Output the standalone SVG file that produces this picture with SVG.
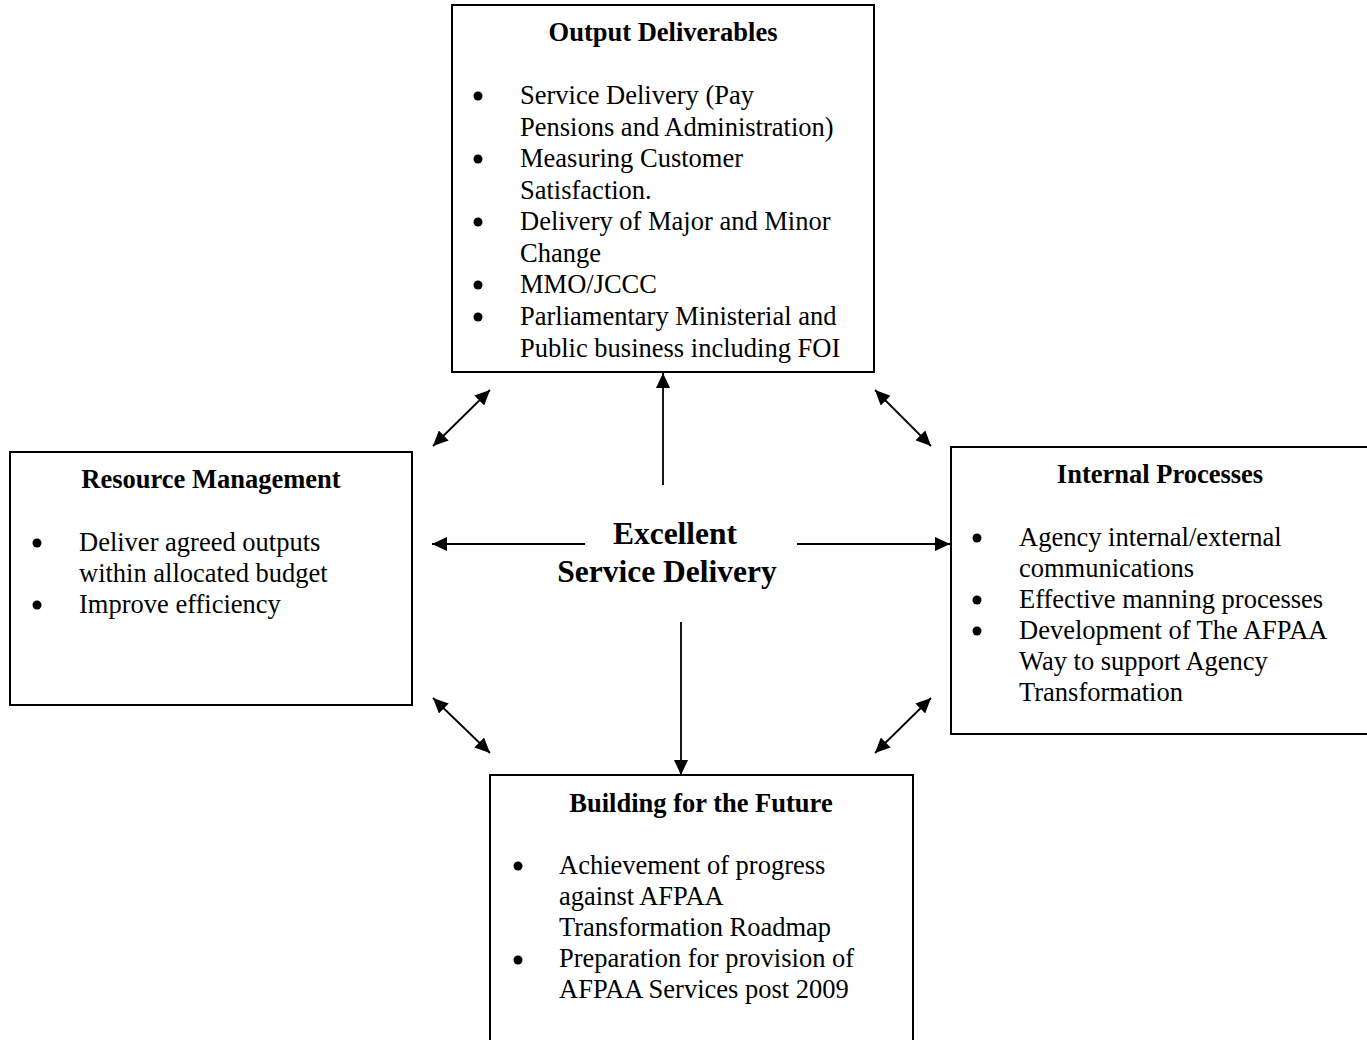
<svg xmlns="http://www.w3.org/2000/svg" width="1367" height="1040" viewBox="0 0 1367 1040">
<style>
.box{fill:#fff;stroke:#000;stroke-width:2}
.t{font-family:"Liberation Serif","Times New Roman",serif;font-size:26.5px;fill:#000}
.h{font-family:"Liberation Serif","Times New Roman",serif;font-size:26.5px;font-weight:bold;fill:#000;text-anchor:middle}
.c{font-family:"Liberation Serif","Times New Roman",serif;font-size:31.5px;font-weight:bold;fill:#000;text-anchor:middle}
.b{fill:#000}
.ln{stroke:#000;stroke-width:1.8;fill:none}
</style>
<defs>
<marker id="ah" markerUnits="userSpaceOnUse" markerWidth="16" markerHeight="14" refX="15" refY="7" orient="auto-start-reverse">
<path d="M0,0 L15,7 L0,14 z" fill="#000"/>
</marker>
</defs>
<rect width="1367" height="1040" fill="#fff"/>
<g id="output-deliverables">
<rect class="box" x="452" y="5" width="422" height="367"/>
<text class="h" x="663" y="41">Output Deliverables</text>
<circle class="b" cx="478" cy="96" r="4.5"/>
<circle class="b" cx="478" cy="159" r="4.5"/>
<circle class="b" cx="478" cy="222" r="4.5"/>
<circle class="b" cx="478" cy="285" r="4.5"/>
<circle class="b" cx="478" cy="317" r="4.5"/>
<text class="t" x="520" y="104">Service Delivery (Pay</text>
<text class="t" x="520" y="136">Pensions and Administration)</text>
<text class="t" x="520" y="167">Measuring Customer</text>
<text class="t" x="520" y="199">Satisfaction.</text>
<text class="t" x="520" y="230">Delivery of Major and Minor</text>
<text class="t" x="520" y="262">Change</text>
<text class="t" x="520" y="293">MMO/JCCC</text>
<text class="t" x="520" y="325">Parliamentary Ministerial and</text>
<text class="t" x="520" y="357">Public business including FOI</text>
</g>
<g id="resource-management">
<rect class="box" x="10" y="452" width="402" height="253"/>
<text class="h" x="211" y="488">Resource Management</text>
<circle class="b" cx="37" cy="543" r="4.5"/>
<circle class="b" cx="37" cy="605" r="4.5"/>
<text class="t" x="79" y="551">Deliver agreed outputs</text>
<text class="t" x="79" y="582">within allocated budget</text>
<text class="t" x="79" y="613">Improve efficiency</text>
</g>
<g id="internal-processes">
<rect class="box" x="951" y="447" width="420" height="287"/>
<text class="h" x="1160" y="483">Internal Processes</text>
<circle class="b" cx="977" cy="538" r="4.5"/>
<circle class="b" cx="977" cy="600" r="4.5"/>
<circle class="b" cx="977" cy="631" r="4.5"/>
<text class="t" x="1019" y="546">Agency internal/external</text>
<text class="t" x="1019" y="577">communications</text>
<text class="t" x="1019" y="608">Effective manning processes</text>
<text class="t" x="1019" y="639">Development of The AFPAA</text>
<text class="t" x="1019" y="670">Way to support Agency</text>
<text class="t" x="1019" y="701">Transformation</text>
</g>
<g id="building-for-the-future">
<rect class="box" x="490" y="775" width="423" height="280"/>
<text class="h" x="701" y="812">Building for the Future</text>
<circle class="b" cx="518" cy="866" r="4.5"/>
<circle class="b" cx="518" cy="960" r="4.5"/>
<text class="t" x="559" y="874">Achievement of progress</text>
<text class="t" x="559" y="905">against AFPAA</text>
<text class="t" x="559" y="936">Transformation Roadmap</text>
<text class="t" x="559" y="967">Preparation for provision of</text>
<text class="t" x="559" y="998">AFPAA Services post 2009</text>
</g>
<g id="center">
<text class="c" x="675" y="544">Excellent</text>
<text class="c" x="667" y="582">Service Delivery</text>
</g>
<g id="connectors">
<line class="ln" x1="663" y1="485" x2="663" y2="373" marker-end="url(#ah)"/>
<line class="ln" x1="681" y1="622" x2="681" y2="775" marker-end="url(#ah)"/>
<line class="ln" x1="585" y1="544" x2="432" y2="544" marker-end="url(#ah)"/>
<line class="ln" x1="797" y1="544" x2="950" y2="544" marker-end="url(#ah)"/>
<line class="ln" x1="433" y1="446" x2="490" y2="390" marker-start="url(#ah)" marker-end="url(#ah)"/>
<line class="ln" x1="875" y1="390" x2="931" y2="446" marker-start="url(#ah)" marker-end="url(#ah)"/>
<line class="ln" x1="433" y1="698" x2="490" y2="753" marker-start="url(#ah)" marker-end="url(#ah)"/>
<line class="ln" x1="931" y1="698" x2="875" y2="753" marker-start="url(#ah)" marker-end="url(#ah)"/>
</g>
</svg>
